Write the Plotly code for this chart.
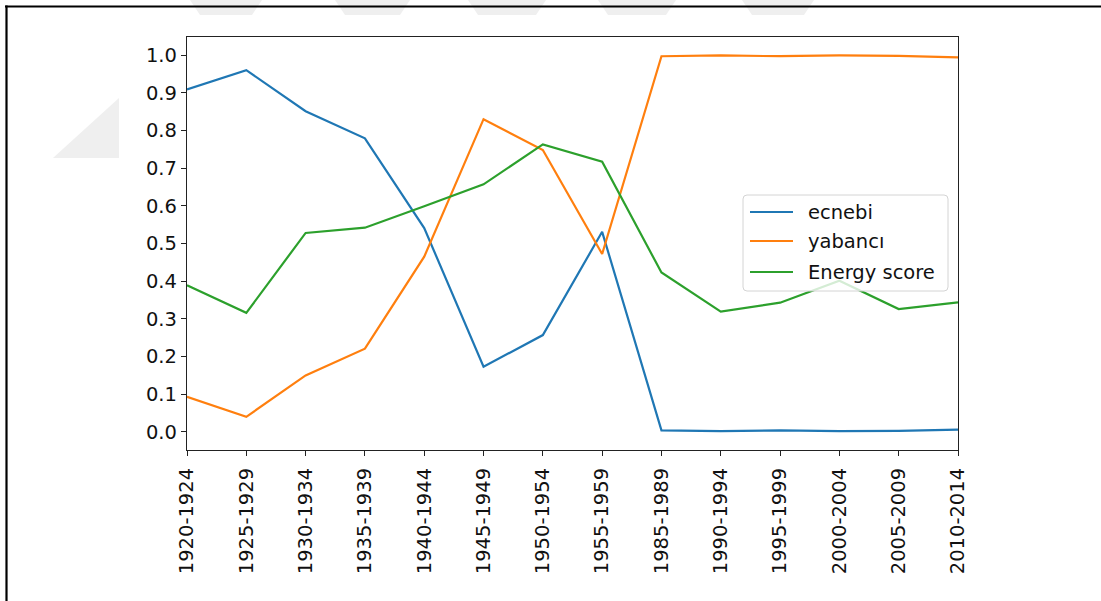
import plotly.graph_objects as go

# Five-year periods on the x axis
periods = ["1920-1924", "1925-1929", "1930-1934", "1935-1939", "1940-1944",
           "1945-1949", "1950-1954", "1955-1959", "1985-1989", "1990-1994",
           "1995-1999", "2000-2004", "2005-2009", "2010-2014"]

# Series values per period
ecnebi = [0.909, 0.960, 0.851, 0.779, 0.541, 0.173, 0.257, 0.531,
          0.004, 0.002, 0.004, 0.002, 0.003, 0.006]
yabanci = [0.093, 0.040, 0.150, 0.221, 0.465, 0.830, 0.748, 0.472,
           0.997, 0.999, 0.997, 0.999, 0.998, 0.994]
energy_score = [0.389, 0.316, 0.528, 0.542, 0.599, 0.657, 0.763, 0.717,
                0.423, 0.319, 0.343, 0.401, 0.326, 0.344]

series_names = ["ecnebi", "yabancı", "Energy score"]
series_colors = ["#1f77b4", "#ff7f0e", "#2ca02c"]

y_ticks = [0.0, 0.1, 0.2, 0.3, 0.4, 0.5, 0.6, 0.7, 0.8, 0.9, 1.0]

W, H = 1101, 601
ML, MR, MT, MB = 187, 143, 37, 151
FONT = "DejaVu Sans, Verdana, sans-serif"
FS = 19.5

fig = go.Figure()
for name, vals, color in zip(series_names, [ecnebi, yabanci, energy_score],
                             series_colors):
    fig.add_trace(go.Scatter(x=periods, y=vals, mode="lines", name=name,
                             showlegend=False,
                             line=dict(color=color, width=2.2)))


def px_x(p):
    return (p - ML) / (W - ML - MR)


def px_y(p):
    return (H - MB - p) / (H - MT - MB)


def poly(points, fill, line=None):
    d = "M " + " L ".join(f"{px_x(x)},{px_y(y)}" for x, y in points) + " Z"
    return dict(type="path", xref="paper", yref="paper", path=d,
                fillcolor=fill, line=line or dict(width=0))


shapes = []
# faint page watermark fragments around the figure
for x0, x1 in [(190, 262), (335, 410), (468, 546), (598, 676), (742, 814)]:
    s = poly([(x0, 0), (x1, 0), (x1 - 10, 15), (x0 + 10, 15)], "#efefef")
    s["layer"] = "below"
    shapes.append(s)
s = poly([(53, 158), (119, 98), (119, 158)], "#efefef")
s["layer"] = "below"
shapes.append(s)

# page frame lines
shapes.append(dict(type="line", xref="paper", yref="paper",
                   x0=px_x(5), x1=px_x(W + 5), y0=px_y(6.5), y1=px_y(6.5),
                   line=dict(color="black", width=2.2)))
shapes.append(dict(type="line", xref="paper", yref="paper",
                   x0=px_x(6.5), x1=px_x(6.5), y0=px_y(5.5), y1=px_y(H + 5),
                   line=dict(color="black", width=2.2)))

# legend box (rounded) with line samples and labels
bx0, bx1, by0, by1, r = 743, 948, 195, 291, 4
box = (f"M {px_x(bx0 + r)},{px_y(by0)} L {px_x(bx1 - r)},{px_y(by0)} "
       f"Q {px_x(bx1)},{px_y(by0)} {px_x(bx1)},{px_y(by0 + r)} "
       f"L {px_x(bx1)},{px_y(by1 - r)} "
       f"Q {px_x(bx1)},{px_y(by1)} {px_x(bx1 - r)},{px_y(by1)} "
       f"L {px_x(bx0 + r)},{px_y(by1)} "
       f"Q {px_x(bx0)},{px_y(by1)} {px_x(bx0)},{px_y(by1 - r)} "
       f"L {px_x(bx0)},{px_y(by0 + r)} "
       f"Q {px_x(bx0)},{px_y(by0)} {px_x(bx0 + r)},{px_y(by0)} Z")
shapes.append(dict(type="path", xref="paper", yref="paper", path=box,
                   fillcolor="rgba(255,255,255,0.8)",
                   line=dict(color="#d4d4d4", width=1)))
annotations = []
for row_y, name, color in zip([212, 241, 272], series_names, series_colors):
    shapes.append(dict(type="line", xref="paper", yref="paper",
                       x0=px_x(750), x1=px_x(793), y0=px_y(row_y),
                       y1=px_y(row_y), line=dict(color=color, width=2.2)))
    annotations.append(dict(xref="paper", yref="paper", x=px_x(806),
                            y=px_y(row_y), text=name, showarrow=False,
                            xanchor="left", yanchor="middle",
                            font=dict(family=FONT, size=FS, color="#111")))

fig.update_layout(
    width=W, height=H,
    margin=dict(l=ML, r=MR, t=MT, b=MB, pad=0),
    paper_bgcolor="white", plot_bgcolor="white",
    font=dict(family=FONT, size=FS, color="#111"),
    shapes=shapes,
    annotations=annotations,
    showlegend=False,
    xaxis=dict(type="category", range=[0, len(periods) - 1],
               showgrid=False, zeroline=False, showline=True, mirror=True,
               linecolor="#222", linewidth=1.3, ticks="outside", ticklen=5,
               tickcolor="#222", tickwidth=1.3, tickangle=-90,
               ticklabelstandoff=4,
               tickfont=dict(family=FONT, size=FS, color="#111")),
    yaxis=dict(range=[-0.048, 1.048], tickvals=y_ticks, tickformat=".1f",
               showgrid=False, zeroline=False, showline=True, mirror=True,
               linecolor="#222", linewidth=1.3, ticks="outside", ticklen=5,
               tickcolor="#222", tickwidth=1.3,
               tickfont=dict(family=FONT, size=FS, color="#111")),
)

fig.write_html("out.html")
